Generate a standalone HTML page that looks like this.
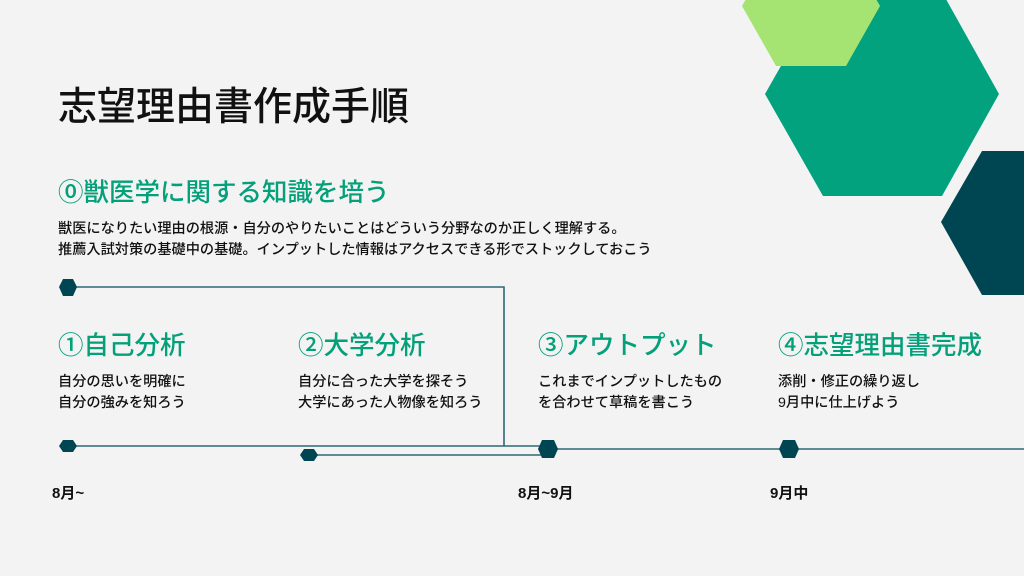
<!DOCTYPE html>
<html><head><meta charset="utf-8"><style>
body{margin:0;width:1024px;height:576px;background:#f3f3f3;position:relative;overflow:hidden;font-family:"Liberation Sans","Noto Sans CJK JP",sans-serif;color:#111}
.t{position:absolute;white-space:nowrap}
.h{color:#04a07a;font-size:25.5px;font-weight:500}
.b{font-size:14.2px;line-height:21px;font-weight:500}
.d{font-size:15px;font-weight:700}
</style></head><body>
<svg width="1024" height="576" style="position:absolute;left:0;top:0">
<polygon points="765,94 823,-8 942,-8 999,94 942,196 823,196" fill="#03a27e"/>
<polygon points="742,6 776,66 846,66 880,6 846,-54 776,-54" fill="#a5e473"/>
<polygon points="941,222 982,151 1100,151 1100,295 982,295" fill="#004652"/>
<g stroke="#2e6a73" stroke-width="1.6" fill="none">
<polyline points="68,287 504,287 504,446"/>
<line x1="68" y1="446" x2="548" y2="446"/>
<line x1="309" y1="455" x2="548" y2="455"/>
<line x1="548" y1="449" x2="1024" y2="449"/>
</g>
<g fill="#004652">
<polygon points="59,287 63,279 73,279 77,287 73,296 63,296"/>
<polygon points="59,446 63,440 73,440 77,446 73,452 63,452"/>
<polygon points="300,455 304,449 314,449 318,455 314,461 304,461"/>
<polygon points="538,449 542,440 554,440 558,449 554,458 542,458"/>
<polygon points="779,449 783,440 795,440 799,449 795,458 783,458"/>
</g>
</svg>
<div class="t" style="left:58px;top:76px;font-size:39px;font-weight:500">志望理由書作成手順</div>
<div class="t h" style="left:58px;top:172px">⓪獣医学に関する知識を培う</div>
<div class="t b" style="left:58px;top:219px">獣医になりたい理由の根源・自分のやりたいことはどういう分野なのか正しく理解する。<br>推薦入試対策の基礎中の基礎。インプットした情報はアクセスできる形でストックしておこう</div>
<div class="t h" style="left:58px;top:325px">①自己分析</div>
<div class="t h" style="left:298px;top:325px">②大学分析</div>
<div class="t h" style="left:538px;top:325px">③アウトプット</div>
<div class="t h" style="left:778px;top:325px">④志望理由書完成</div>
<div class="t b" style="left:58px;top:372px">自分の思いを明確に<br>自分の強みを知ろう</div>
<div class="t b" style="left:298px;top:372px">自分に合った大学を探そう<br>大学にあった人物像を知ろう</div>
<div class="t b" style="left:538px;top:372px">これまでインプットしたもの<br>を合わせて草稿を書こう</div>
<div class="t b" style="left:778px;top:372px">添削・修正の繰り返し<br>9月中に仕上げよう</div>
<div class="t d" style="left:52px;top:482px">8月~</div>
<div class="t d" style="left:518px;top:482px">8月~9月</div>
<div class="t d" style="left:770px;top:482px">9月中</div>
</body></html>
